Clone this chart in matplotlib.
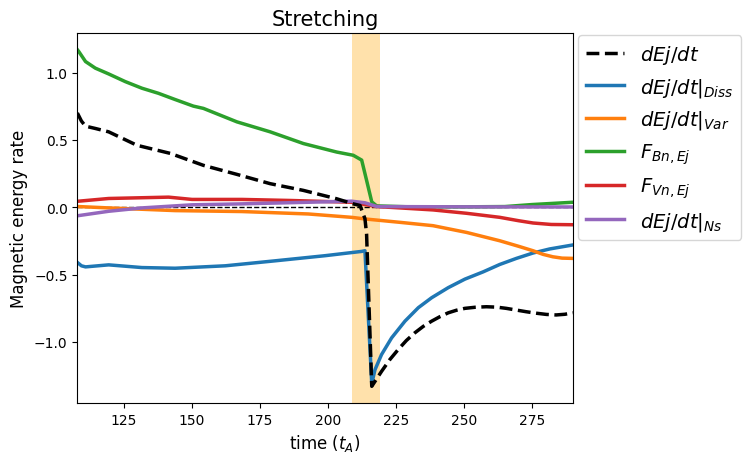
import numpy as np
import matplotlib
matplotlib.use("Agg")
import matplotlib.pyplot as plt

# values
t_tot = [108.0, 109.5, 111.0, 114.6, 119.5, 129.9, 142.1, 154.3, 166.6, 178.8, 191.0, 203.2,
         209.3, 211.8, 213.6, 214.2, 216.1, 219.7, 222.8, 225.8, 228.8, 231.9, 235.0, 238.1,
         241.2, 244.2, 247.2, 250.3, 254.0, 258.2, 262.0, 265.5, 269.0, 272.8, 276.5, 280.2,
         283.8, 287.0, 290.0]
dEj_tot = [0.70, 0.64, 0.602, 0.585, 0.56, 0.46, 0.40, 0.311, 0.244, 0.175, 0.125, 0.063,
           0.025, 0.013, -0.085, -0.2, -1.33, -1.219, -1.13, -1.057, -0.99, -0.933, -0.885, -0.846,
           -0.812, -0.784, -0.765, -0.751, -0.743, -0.739, -0.742, -0.751, -0.763, -0.776, -0.787,
           -0.796, -0.80, -0.795, -0.784]

t_diss = [108.0, 109.5, 111.0, 119.5, 131.7, 143.9, 162.3, 180.6, 198.9, 212.4, 213.6,
          216.1, 217.3, 219.7, 223.4, 228.3, 233.2, 238.1, 244.2, 250.3, 257.0, 263.1, 269.2,
          275.3, 281.4, 290.0]
dEj_diss = [-0.41, -0.435, -0.443, -0.428, -0.448, -0.453, -0.435, -0.398, -0.36, -0.328, -0.323,
            -1.31, -1.206, -1.094, -0.970, -0.846, -0.746, -0.672, -0.597, -0.534, -0.48, -0.425,
            -0.38, -0.34, -0.31, -0.28]

t_var = [108.5, 119.5, 143.9, 168.4, 192.8, 208.7, 213.6, 226.4, 238.6, 250.9, 263.1,
         270.0, 275.3, 279.0, 282.6, 286.0, 290.0]
dEj_var = [0.005, -0.005, -0.025, -0.032, -0.05, -0.075, -0.087, -0.112, -0.137, -0.187,
           -0.249, -0.29, -0.323, -0.35, -0.368, -0.378, -0.38]

t_bn = [108.0, 108.5, 111.0, 114.6, 119.5, 125.6, 131.7, 137.8, 143.9, 150.6, 154.3, 166.6,
        178.8, 191.0, 203.2, 209.3, 212.4, 214.2, 216.1, 217.9, 230.0, 250.0, 265.0, 275.0, 290.0]
f_bn = [1.17, 1.157, 1.082, 1.033, 0.99, 0.933, 0.884, 0.846, 0.80, 0.751, 0.734, 0.634,
        0.56, 0.473, 0.41, 0.386, 0.35, 0.20, 0.04, 0.01, 0.003, 0.003, 0.005, 0.02, 0.037]

t_vn = [108.5, 119.5, 141.5, 150.1, 168.4, 186.7, 208.7, 213.6, 218.0, 226.4, 238.6,
        250.9, 263.1, 270.0, 275.3, 282.0, 290.0]
f_vn = [0.045, 0.065, 0.075, 0.058, 0.058, 0.05, 0.037, 0.02, 0.005, -0.005, -0.02,
        -0.045, -0.075, -0.1, -0.117, -0.128, -0.13]

t_ns = [108.5, 119.5, 131.7, 150.1, 168.4, 192.8, 208.7, 213.6, 218.0, 250.0, 290.0]
dEj_ns = [-0.062, -0.03, -0.005, 0.018, 0.025, 0.037, 0.045, 0.033, 0.005, 0.003, 0.002]

span = (208.8, 219.1)

fig, ax = plt.subplots(figsize=(7.51, 4.64), dpi=100)
fig.subplots_adjust(left=0.103, right=0.763, top=0.927, bottom=0.129)

ax.axvspan(span[0], span[1], color="orange", alpha=0.33, lw=0)
ax.axhline(0, color="k", ls="--", lw=1)
ax.plot(t_tot, dEj_tot, "k--", lw=2.5, label=r"$dEj/dt$", zorder=5)
ax.plot(t_diss, dEj_diss, color="tab:blue", lw=2.5, label=r"$dEj/dt|_{Diss}$")
ax.plot(t_var, dEj_var, color="tab:orange", lw=2.5, label=r"$dEj/dt|_{Var}$")
ax.plot(t_bn, f_bn, color="tab:green", lw=2.5, label=r"$F_{Bn,Ej}$")
ax.plot(t_vn, f_vn, color="tab:red", lw=2.5, label=r"$F_{Vn,Ej}$")
ax.plot(t_ns, dEj_ns, color="tab:purple", lw=2.5, label=r"$dEj/dt|_{Ns}$")

ax.set_xlim(108, 290)
ax.set_title("Stretching", fontsize=15)
ax.set_xlabel(r"time ($t_A$)", fontsize=12)
ax.set_ylabel("Magnetic energy rate", fontsize=12)
ax.legend(loc="upper left", bbox_to_anchor=(0.99, 1.02), fontsize=14)

fig.savefig("out.png", dpi=100)
